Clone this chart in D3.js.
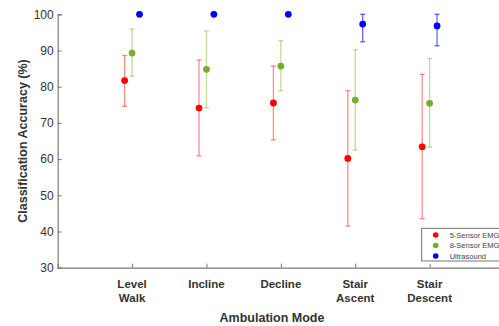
<!DOCTYPE html>
<html>
<head>
<meta charset="utf-8">
<script src="https://cdn.jsdelivr.net/npm/d3@7"></script>
<style>
  body { margin: 0; background: #fff; }
  svg { display: block; font-family: Arial, "Liberation Sans", sans-serif; }
</style>
</head>
<body>
<svg id="chart" width="499" height="326"></svg>
<script>
// data
const modes = [["Level", "Walk"], ["Incline"], ["Decline"], ["Stair", "Ascent"], ["Stair", "Descent"]];
const seriesNames = ["5-Sensor EMG", "8-Sensor EMG", "Ultrasound"];

const emg5Mean = [81.7, 74.1, 75.5, 60.2, 63.4];
const emg5Low  = [74.6, 60.9, 65.3, 41.5, 43.5];
const emg5High = [88.6, 87.4, 85.7, 78.9, 83.4];

const emg8Mean = [89.3, 84.8, 85.7, 76.3, 75.4];
const emg8Low  = [82.9, 74.2, 78.9, 62.5, 63.3];
const emg8High = [95.9, 95.4, 92.7, 90.2, 87.8];

const usMean = [100, 100, 100, 97.3, 96.8];
const usLow  = [100, 100, 100, 92.4, 91.3];
const usHigh = [100, 100, 100, 100, 100];

const yTicks = [30, 40, 50, 60, 70, 80, 90, 100];

const series = [
  { name: seriesNames[0], mean: emg5Mean, low: emg5Low, high: emg5High, color: "#ff0000", bar: "rgba(255,0,0,0.45)", off: -0.1 },
  { name: seriesNames[1], mean: emg8Mean, low: emg8Low, high: emg8High, color: "#77ac30", bar: "rgba(119,172,48,0.45)", off: 0 },
  { name: seriesNames[2], mean: usMean, low: usLow, high: usHigh, color: "#0000ff", bar: "rgba(0,0,255,0.6)", off: 0.1 }
];

const svg = d3.select('#chart');

// scales
const x = d3.scaleLinear().domain([0, 6]).range([57.7, 504]);
const y = d3.scaleLinear().domain([30, 100]).range([267.7, 14.3]);

const axisColor = "#7a7a7a";

// y axis (ticks inward)
const gy = svg.append('g')
  .attr('transform', `translate(${x(0)},0)`)
  .call(d3.axisLeft(y).tickValues(yTicks).tickSize(-4).tickPadding(4));
gy.select('.domain').attr('stroke', axisColor).attr('stroke-width', 1.2);
gy.selectAll('.tick line').attr('stroke', axisColor);
gy.selectAll('text').attr('font-size', 12).attr('fill', '#333').attr('font-family', 'Arial, "Liberation Sans", sans-serif');

// x axis (ticks inward)
const gx = svg.append('g')
  .attr('transform', `translate(0,${y(30)})`)
  .call(d3.axisBottom(x).tickValues([1, 2, 3, 4, 5]).tickSize(-4).tickFormat(''));
gx.select('.domain').attr('stroke', axisColor).attr('stroke-width', 1.2);
gx.selectAll('.tick line').attr('stroke', axisColor);

// category labels
modes.forEach((lines, i) => {
  const t = svg.append('text')
    .attr('x', x(i + 1))
    .attr('y', y(30) + 20)
    .attr('text-anchor', 'middle')
    .attr('font-size', 11.5)
    .attr('font-weight', 'bold')
    .attr('fill', '#333');
  lines.forEach((s, j) => {
    t.append('tspan').attr('x', x(i + 1)).attr('dy', j === 0 ? 0 : 14).text(s);
  });
});

// axis titles
svg.append('text')
  .attr('x', 272).attr('y', 322)
  .attr('text-anchor', 'middle')
  .attr('font-size', 12.5).attr('font-weight', 'bold').attr('fill', '#333')
  .text('Ambulation Mode');

svg.append('text')
  .attr('transform', `translate(27,${y(65)}) rotate(-90)`)
  .attr('text-anchor', 'middle')
  .attr('font-size', 12.5).attr('font-weight', 'bold').attr('fill', '#333')
  .text('Classification Accuracy (%)');

// error bars and points
series.forEach(s => {
  const g = svg.append('g');
  s.mean.forEach((m, i) => {
    const cx = x(i + 1 + s.off);
    if (s.high[i] !== s.low[i]) {
      g.append('line')
        .attr('x1', cx).attr('x2', cx)
        .attr('y1', y(s.low[i])).attr('y2', y(s.high[i]))
        .attr('stroke', s.bar).attr('stroke-width', 1.3);
      [s.low[i], s.high[i]].forEach(v => {
        g.append('line')
          .attr('x1', cx - 2.5).attr('x2', cx + 2.5)
          .attr('y1', y(v)).attr('y2', y(v))
          .attr('stroke', s.bar).attr('stroke-width', 1.3);
      });
    }
  });
  g.selectAll('circle')
    .data(s.mean)
    .enter()
    .append('circle')
    .attr('cx', (d, i) => x(i + 1 + s.off))
    .attr('cy', d => y(d))
    .attr('r', 3.4)
    .attr('fill', s.color);
});

// legend
const lg = svg.append('g').attr('transform', 'translate(421.7,228.3)');
lg.append('rect')
  .attr('width', 90).attr('height', 32.7)
  .attr('fill', '#fff').attr('stroke', '#555').attr('stroke-width', 0.8);
series.forEach((s, i) => {
  lg.append('circle').attr('cx', 14).attr('cy', 6.7 + i * 10.5).attr('r', 2.8).attr('fill', s.color);
  lg.append('text')
    .attr('x', 28).attr('y', 6.7 + i * 10.5).attr('dy', '0.35em')
    .attr('font-size', 7.5).attr('fill', '#444')
    .text(s.name);
});
</script>
</body>
</html>
